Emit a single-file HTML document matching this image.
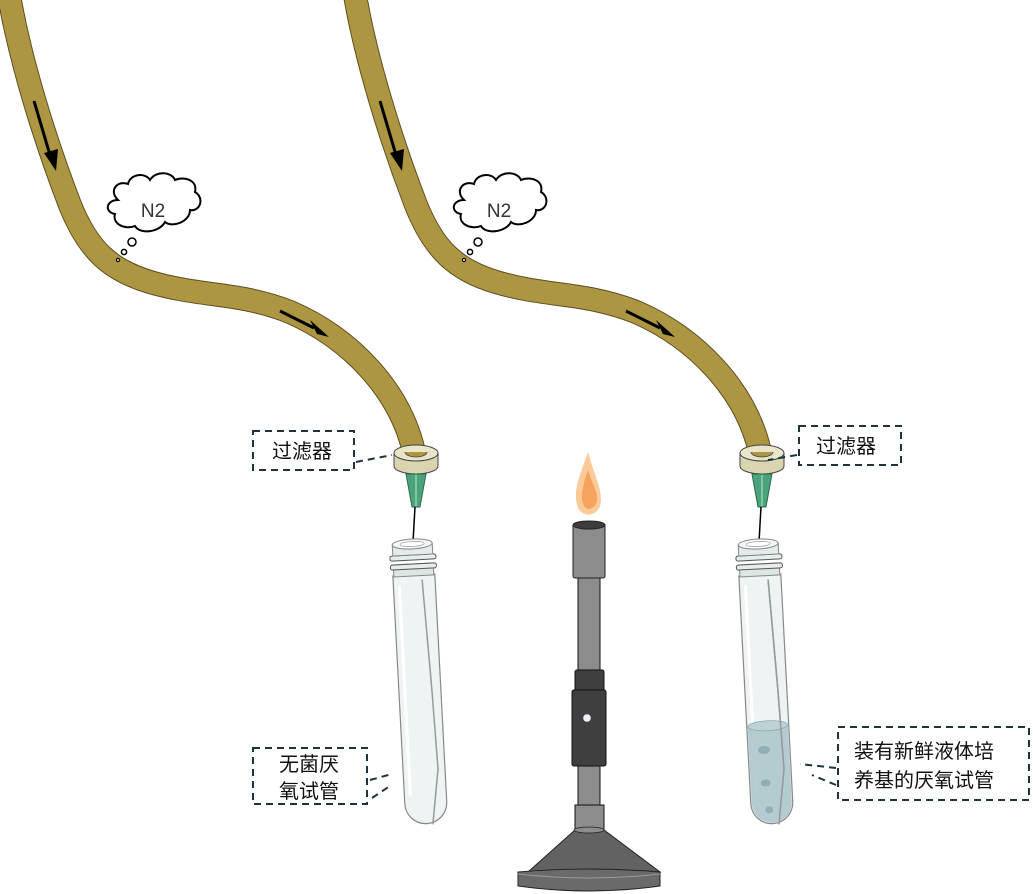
<!DOCTYPE html>
<html><head><meta charset="utf-8"><style>
html,body{margin:0;padding:0;background:#fff}
svg{display:block}
text{font-family:"Liberation Sans","Noto Sans CJK SC",sans-serif}
</style></head><body>
<svg width="1033" height="894" viewBox="0 0 1033 894" xmlns="http://www.w3.org/2000/svg">
<defs>
<g id="hose">
  <path d="M9,-5 C20,60 45,140 70,205 C88,250 110,270 150,282 C200,297 240,292 290,312 C350,338 400,390 414,452" fill="none" stroke="#5c4e20" stroke-width="24"/>
  <path d="M9,-5 C20,60 45,140 70,205 C88,250 110,270 150,282 C200,297 240,292 290,312 C350,338 400,390 414,452" fill="none" stroke="#ad9641" stroke-width="22"/>
  <line x1="34" y1="101" x2="50" y2="155" stroke="#000" stroke-width="3"/>
  <polygon points="44,153 58,149 56,171" fill="#000"/>
  <line x1="280" y1="311" x2="314" y2="328" stroke="#000" stroke-width="3"/>
  <polygon points="310,320 317,334 329,337" fill="#000"/>
  <path d="M118,200 C108,190 118,180 128,184 C130,174 145,172 150,180 C156,170 172,172 175,180 C184,176 198,180 195,192 C205,198 200,212 190,210 C190,222 172,228 165,222 C160,232 140,235 135,226 C125,230 112,224 115,214 C104,212 106,200 118,200 Z" fill="#fff" stroke="#000" stroke-width="2"/>
  <text x="153" y="217" font-size="19" text-anchor="middle" fill="#333">N2</text>
  <circle cx="132" cy="242" r="4" fill="#fff" stroke="#000" stroke-width="1.5"/>
  <circle cx="124" cy="252" r="2.6" fill="#fff" stroke="#000" stroke-width="1.5"/>
  <circle cx="118" cy="260" r="1.6" fill="#fff" stroke="#000" stroke-width="1.2"/>
  <!-- filter -->
  <path d="M394,453 L394,466 A22,8 0 0 0 438,466 L438,453 Z" fill="#d9d5b0" stroke="#444" stroke-width="1"/>
  <ellipse cx="416" cy="453" rx="22" ry="8" fill="#e8e5c8" stroke="#444" stroke-width="1"/>
  <path d="M405,452 A11,5 0 0 0 427,452" fill="#ad9641" stroke="#444" stroke-width="0.8"/>
  <polygon points="406,474 426,474 420,507 412,507" fill="#4aa37a" stroke="#2d6a4f" stroke-width="1"/>
  <line x1="416" y1="475" x2="416" y2="506" stroke="#7fc8a3" stroke-width="2"/>
  <line x1="415" y1="507" x2="413" y2="542" stroke="#000" stroke-width="1.5"/>
</g>
<g id="tube">
  <path d="M-21,35 L-21,263 A21,21 0 0 0 21,263 L21,35 Z" fill="#eef3f4" stroke="#888" stroke-width="1.2"/>
  <line x1="-15" y1="45" x2="-15" y2="255" stroke="#fff" stroke-width="3"/>
  <path d="M8,40 L12,150 L14,230 L6,285" fill="none" stroke="#999" stroke-width="1.5"/>
  <rect x="-20" y="24" width="40" height="12" fill="#dde6e7" stroke="#888" stroke-width="1"/>
  <rect x="-23" y="15" width="46" height="5" rx="2" fill="#e6eded" stroke="#555" stroke-width="1"/>
  <rect x="-23" y="24" width="46" height="5" rx="2" fill="#e6eded" stroke="#555" stroke-width="1"/>
  <rect x="-20" y="4" width="40" height="11" fill="#e4ebec" stroke="#888" stroke-width="1"/>
  <ellipse cx="0" cy="4" rx="20" ry="5" fill="#f2f6f6" stroke="#888" stroke-width="1"/>
  <ellipse cx="0" cy="4" rx="12" ry="2.5" fill="#fff" stroke="#aaa" stroke-width="0.8"/>
</g>
</defs>

<use href="#hose"/>
<use href="#hose" transform="translate(346,0)"/>

<g transform="translate(412,540) rotate(-3)"><use href="#tube"/></g>
<g transform="translate(758,540) rotate(-3)">
  <use href="#tube"/>
  <path d="M-20,186 L-20,263 A20,20 0 0 0 20,263 L20,186 Z" fill="#a9c3c9" opacity="0.85"/>
  <ellipse cx="0" cy="186" rx="20" ry="5" fill="#bcd2d6" stroke="#8aa" stroke-width="0.8"/>
  <ellipse cx="-5" cy="210" rx="6" ry="4" fill="#8fb0b8"/>
  <ellipse cx="-5" cy="243" rx="5" ry="3.5" fill="#8fb0b8"/>
  <ellipse cx="-3" cy="270" rx="4" ry="3.5" fill="#8fb0b8"/>
  <path d="M8,40 L12,150 L14,230 L6,285" fill="none" stroke="#999" stroke-width="1.5"/>
</g>

<!-- burner -->
<path d="M588,452 C580,475 572,492 578,508 C584,518 596,516 600,506 C604,492 594,475 588,452 Z" fill="#fcc999"/>
<path d="M588,470 C582,488 580,498 584,506 C588,512 596,508 597,500 C598,492 592,484 588,470 Z" fill="#f5a35e"/>
<rect x="578" y="578" width="22" height="94" fill="#8c8c8c" stroke="#111" stroke-width="1"/>
<rect x="573" y="524" width="32" height="54" rx="2" fill="#8c8c8c" stroke="#222" stroke-width="1"/>
<ellipse cx="589" cy="525" rx="16" ry="4" fill="#3d3d3d" stroke="#222" stroke-width="1"/>
<rect x="575" y="670" width="29" height="22" rx="2" fill="#3f3f3f" stroke="#111" stroke-width="1"/>
<rect x="572" y="690" width="34" height="76" rx="2" fill="#3f3f3f" stroke="#111" stroke-width="1"/>
<circle cx="587" cy="718" r="4" fill="#eef" stroke="#555" stroke-width="0.5"/>
<rect x="578" y="766" width="22" height="40" fill="#8c8c8c" stroke="#111" stroke-width="1"/>
<rect x="575" y="805" width="29" height="26" fill="#8c8c8c" stroke="#111" stroke-width="1"/>
<path d="M575,830 L528,872 L660,872 L604,830 Z" fill="#626262" stroke="#222" stroke-width="1"/>
<ellipse cx="589" cy="830" rx="15" ry="3" fill="#8c8c8c" stroke="#222" stroke-width="0.8"/>
<path d="M518,872 L518,886 Q589,896 660,886 L660,872 Q589,866 518,872 Z" fill="#6a6a6a" stroke="#222" stroke-width="1"/>
<path d="M518,874 Q589,882 660,874" fill="none" stroke="#999" stroke-width="1"/>

<!-- labels -->
<g fill="none" stroke="#1b3440" stroke-width="2" stroke-dasharray="7,5">
  <rect x="253" y="431" width="101" height="39"/>
  <path d="M356,462 L392,455"/>
  <rect x="799" y="426" width="102" height="39"/>
  <path d="M797,455 L768,460"/>
  <rect x="253" y="748" width="114" height="56"/>
  <path d="M370,780 L392,774 M372,798 L390,786"/>
  <rect x="838" y="727" width="191" height="73"/>
  <path d="M836,768 L800,764 M836,785 L812,775"/>
</g>
<g font-size="20" fill="#111">
  <text x="272" y="458">过滤器</text>
  <text x="816" y="453">过滤器</text>
  <text x="279" y="771">无菌厌</text>
  <text x="279" y="798">氧试管</text>
  <text x="854" y="758">装有新鲜液体培</text>
  <text x="854" y="787">养基的厌氧试管</text>
</g>
</svg>
</body></html>
